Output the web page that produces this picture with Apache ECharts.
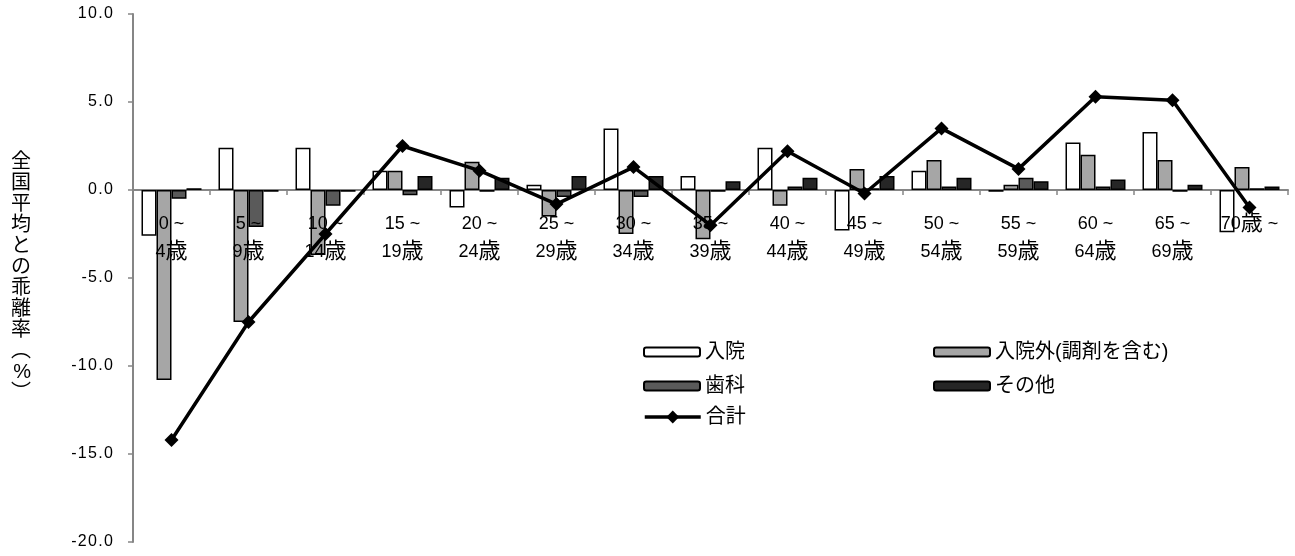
<!DOCTYPE html>
<html><head><meta charset="utf-8">
<script src="https://cdn.jsdelivr.net/npm/echarts@6/dist/echarts.min.js"></script>
<style>html,body{margin:0;padding:0;background:#fff}#c{width:1295px;height:556px}</style>
</head><body><div id="c"></div>
<script>
const categories = ['0 ~\n4歳','5 ~\n9歳','10 ~\n14歳','15 ~\n19歳','20 ~\n24歳','25 ~\n29歳','30 ~\n34歳','35 ~\n39歳','40 ~\n44歳','45 ~\n49歳','50 ~\n54歳','55 ~\n59歳','60 ~\n64歳','65 ~\n69歳','70歳 ~'];
const nyuin      = [-2.6, 2.4, 2.4, 1.1, -1.0, 0.3, 3.5, 0.8, 2.4, -2.3, 1.1, -0.1, 2.7, 3.3, -2.4];
const nyuingai   = [-10.8, -7.5, -3.7, 1.1, 1.6, -1.5, -2.5, -2.8, -0.9, 1.2, 1.7, 0.3, 2.0, 1.7, 1.3];
const shika      = [-0.5, -2.1, -0.9, -0.3, -0.1, -0.4, -0.4, -0.1, 0.2, 0.1, 0.2, 0.7, 0.2, -0.1, 0.1];
const sonota     = [0.1, -0.1, -0.1, 0.8, 0.7, 0.8, 0.8, 0.5, 0.7, 0.8, 0.7, 0.5, 0.6, 0.3, 0.2];
const total      = [-14.2, -7.5, -2.5, 2.5, 1.1, -0.8, 1.3, -2.0, 2.2, -0.2, 3.5, 1.2, 5.3, 5.1, -1.0];
const yTicks = {min: -20, max: 10, interval: 5};

const FONT = '"Liberation Sans","Noto Sans CJK JP",sans-serif';
const GRID_TOP = 14, GRID_BOTTOM = 14, H = 556;
const chart = echarts.init(document.getElementById('c'));
// distance from grid bottom up to the zero line, so the label axis sits on zero
const plotH = H - GRID_TOP - GRID_BOTTOM;
const zeroOffset = -plotH * (0 - yTicks.min) / (yTicks.max - yTicks.min);

function bar(name, data, color) {
  return {name, type:'bar', data, barWidth:15, barGap:'0%',
    itemStyle:{color, borderColor:'#000', borderWidth:1.5}, z:2};
}
const legText = {fontSize:20, color:'#000', fontFamily:FONT};
function leg(name, left, top, w, h) {
  return {data:[name], left, top, itemWidth:w||56, itemHeight:h||9, itemGap:0,
    textStyle:legText, padding:0, selectedMode:false};
}
chart.setOption({
  animation:false,
  textStyle:{fontFamily:FONT},
  grid:{left:133, right:7, top:GRID_TOP, bottom:GRID_BOTTOM, containLabel:false, outerBoundsMode:'none'},
  legend:[
    leg('入院', 643, 342),
    leg('入院外(調剤を含む)', 933, 342),
    leg('歯科', 643, 376),
    leg('その他', 933, 376),
    Object.assign(leg('合計', 643, 407, 56, 16), {lineStyle:{width:3.5, color:'#000'}})
  ],
  xAxis:[{type:'category', data:categories,
    axisLine:{onZero:true, lineStyle:{color:'#868686', width:2}},
    axisTick:{show:true, length:5, lineStyle:{color:'#868686', width:1.5}},
    axisLabel:{show:false},
    splitLine:{show:false}},
   {type:'category', data:categories, position:'bottom', offset:zeroOffset, z:3,
    axisLine:{show:false, onZero:false}, axisTick:{show:false},
    axisLabel:{interval:0, fontSize:18, lineHeight:28, margin:20, color:'#000', fontFamily:FONT,
      formatter:v=>v.replace(/歳/g, '{k|歳}'),
      rich:{k:{fontSize:22, lineHeight:28, color:'#000', fontFamily:FONT}}},
    splitLine:{show:false}}],
  yAxis:{type:'value', min:yTicks.min, max:yTicks.max, interval:yTicks.interval,
    name:'全\n国\n平\n均\nと\nの\n乖\n離\n率\n︵\n%\n︶', nameLocation:'middle', nameRotate:0, nameGap:102,
    nameTextStyle:{fontSize:20, lineHeight:21, color:'#000', fontFamily:FONT, padding:[0,0,48,0]},
    axisLine:{show:true, lineStyle:{color:'#868686', width:2}},
    axisTick:{show:true, length:5, lineStyle:{color:'#868686', width:1.5}},
    axisLabel:{fontSize:16, color:'#000', margin:20, formatter:v=>v.toFixed(1).split('').join('\u200A')},
    splitLine:{show:false}},
  series:[
    bar('入院', nyuin, 'rgba(255,255,255,0)'),
    bar('入院外(調剤を含む)', nyuingai, '#a6a6a6'),
    bar('歯科', shika, '#5a5a5a'),
    bar('その他', sonota, '#262626'),
    {name:'合計', type:'line', data:total, symbol:'diamond', symbolSize:14,
      lineStyle:{color:'#000', width:3.5}, itemStyle:{color:'#000'}, z:5}
  ]
});
</script></body></html>
